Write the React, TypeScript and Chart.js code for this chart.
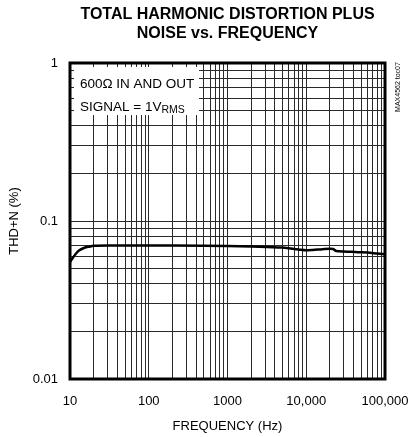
import React, { useEffect, useRef } from "react";
import { Chart, registerables } from "chart.js";

Chart.register(...registerables);

const freqHz = [10, 11, 12, 13, 15, 18, 20, 30, 50, 100, 200, 500, 1000, 2000, 5000, 8000, 10000, 12000, 16000, 20000, 22000, 24000, 30000, 45000, 60000, 80000, 100000];
const thdN = [0.055, 0.059, 0.0625, 0.065, 0.0675, 0.069, 0.0697, 0.07, 0.07, 0.07, 0.07, 0.0698, 0.0695, 0.069, 0.0679, 0.066, 0.0652, 0.0655, 0.0663, 0.0668, 0.0665, 0.0645, 0.0642, 0.0635, 0.0632, 0.0622, 0.0615];

const xDecades = [10, 100, 1000, 10000, 100000];
const xTickLabels = ["10", "100", "1000", "10,000", "100,000"];
const yDecades = [0.01, 0.1, 1];
const yTickLabels = ["0.01", "0.1", "1"];
const multipliers = [1, 2, 3, 4, 5, 6, 7, 8, 9];

const titleLines = ["TOTAL HARMONIC DISTORTION PLUS", "NOISE vs. FREQUENCY"];
const xTitle = "FREQUENCY (Hz)";
const yTitle = "THD+N (%)";
const noteLine1 = "600\u03A9 IN AND OUT";
const noteLine2 = "SIGNAL = 1V";
const noteSub = "RMS";
const sideLabel = "MAX4562 toc07";

const FONT = "'Liberation Sans', Arial, sans-serif";

function logGrid(decades: number[]): number[] {
  const out: number[] = [];
  for (let i = 0; i < decades.length - 1; i++) {
    for (const m of multipliers) out.push(+(decades[i] * m).toPrecision(6));
  }
  out.push(decades[decades.length - 1]);
  return out;
}

const decorPlugin = {
  id: "decor",
  beforeDatasetsDraw(chart: any) {
    const { ctx, chartArea: a } = chart;
    ctx.save();
    ctx.fillStyle = "#fff";
    ctx.fillRect(a.left + 4, a.top + 4, 125, 48);
    ctx.fillStyle = "#000";
    ctx.textBaseline = "alphabetic";
    ctx.textAlign = "left";
    ctx.font = `13.5px ${FONT}`;
    ctx.fillText(noteLine1, a.left + 10, a.top + 25);
    ctx.fillText(noteLine2, a.left + 10, a.top + 48);
    const w = ctx.measureText(noteLine2).width;
    ctx.font = `10.5px ${FONT}`;
    ctx.fillText(noteSub, a.left + 10 + w, a.top + 50);
    ctx.restore();
  },
  afterDatasetsDraw(chart: any) {
    const { ctx, chartArea: a } = chart;
    ctx.save();
    ctx.strokeStyle = "#000";
    ctx.lineWidth = 3;
    ctx.strokeRect(a.left, a.top, a.right - a.left, a.bottom - a.top);
    ctx.restore();
  },
  afterDraw(chart: any) {
    const { ctx, chartArea: a } = chart;
    const cx = (a.left + a.right) / 2;
    ctx.save();
    ctx.fillStyle = "#000";
    ctx.textAlign = "center";
    ctx.textBaseline = "middle";
    ctx.font = `bold 16px ${FONT}`;
    ctx.fillText(titleLines[0], cx, 15);
    ctx.fillText(titleLines[1], cx, 34);
    ctx.translate(a.right + 13, a.top + 24);
    ctx.rotate(-Math.PI / 2);
    ctx.font = `7px ${FONT}`;
    ctx.fillText(sideLabel, 0, 0);
    ctx.restore();
  },
};

export default function App() {
  const ref = useRef<HTMLCanvasElement | null>(null);
  useEffect(() => {
    document.body.style.margin = "0";
    const canvas = ref.current;
    if (!canvas) return;
    const xGrid = logGrid(xDecades);
    const yGrid = logGrid(yDecades);
    const chart = new Chart(canvas, {
      type: "line",
      data: {
        datasets: [
          {
            data: freqHz.map((f, i) => ({ x: f, y: thdN[i] })),
            borderColor: "#000",
            borderWidth: 2.5,
            pointRadius: 0,
            cubicInterpolationMode: "monotone",
            fill: false,
          },
        ],
      },
      options: {
        animation: false,
        responsive: false,
        devicePixelRatio: 1,
        layout: { padding: { top: 63, right: 24, left: 0, bottom: 0 } },
        plugins: { legend: { display: false }, tooltip: { enabled: false }, title: { display: false } },
        scales: {
          x: {
            type: "logarithmic",
            min: 10,
            max: 100000,
            afterBuildTicks: (s: any) => {
              s.ticks = xGrid.map((v) => ({ value: v }));
            },
            afterFit: (s: any) => {
              s.height = 58;
              s.paddingLeft = 0;
              s.paddingRight = 0;
            },
            ticks: {
              autoSkip: false,
              maxRotation: 0,
              padding: 15,
              color: "#000",
              font: { family: FONT, size: 13 },
              callback: (v: any) => {
                const i = xDecades.indexOf(Number(v));
                return i >= 0 ? xTickLabels[i] : "";
              },
            },
            grid: { color: "#2a2a2a", lineWidth: 1, drawTicks: false },
            border: { display: false },
            title: { display: true, text: xTitle, color: "#000", font: { family: FONT, size: 13 }, padding: { top: 0, bottom: 3 } },
          },
          y: {
            type: "logarithmic",
            min: 0.01,
            max: 1,
            afterBuildTicks: (s: any) => {
              s.ticks = yGrid.map((v) => ({ value: v }));
            },
            afterFit: (s: any) => {
              s.width = 70;
              s.paddingTop = 0;
              s.paddingBottom = 0;
            },
            ticks: {
              autoSkip: false,
              padding: 12,
              color: "#000",
              font: { family: FONT, size: 13 },
              callback: (v: any) => {
                const n = Number(v);
                const i = yDecades.findIndex((d) => Math.abs(d - n) / d < 1e-6);
                return i >= 0 ? yTickLabels[i] : "";
              },
            },
            grid: { color: "#2a2a2a", lineWidth: 1, drawTicks: false },
            border: { display: false },
            title: { display: true, text: yTitle, color: "#000", font: { family: FONT, size: 13 }, padding: { top: 7, bottom: 0 } },
          },
        },
      },
      plugins: [decorPlugin],
    } as any);
    return () => chart.destroy();
  }, []);
  return <canvas ref={ref} width={409} height={437} style={{ display: "block" }} />;
}
